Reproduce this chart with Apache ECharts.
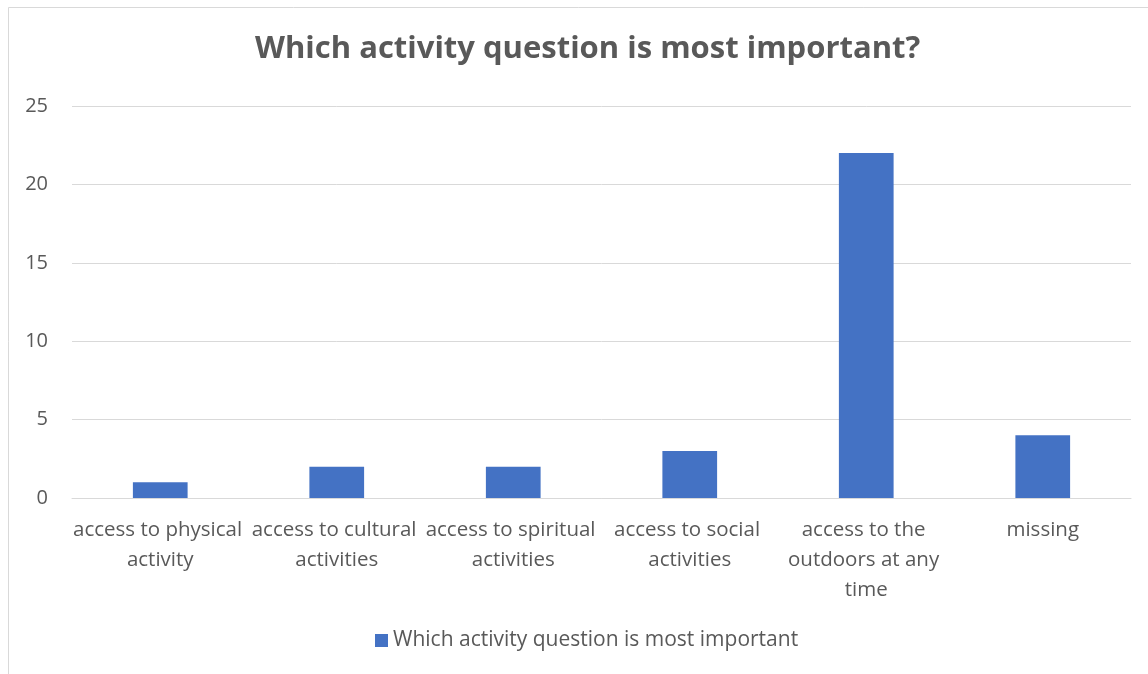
<!DOCTYPE html>
<html>
<head>
<meta charset="utf-8">
<script src="https://cdn.jsdelivr.net/npm/echarts@6/dist/echarts.min.js"></script>
<style>
  html, body { margin: 0; padding: 0; background: #fff; }
  #chart { width: 1148px; height: 674px; }
</style>
</head>
<body>
<div id="chart"></div>
<script>
const titleText = 'Which activity question is most important?';
const seriesName = 'Which activity question is most important';
const categories = [
  'access to physical activity',
  'access to cultural activities',
  'access to spiritual activities',
  'access to social activities',
  'access to the outdoors at any time',
  'missing'
];
const counts = [1, 2, 2, 3, 22, 4];
const yTicks = [0, 5, 10, 15, 20, 25];

const textColor = '#595959';
const barColor = '#4472C4';
const font = 'Open Sans';

const chart = echarts.init(document.getElementById('chart'), null, { renderer: 'canvas' });
chart.setOption({
  animation: false,
  backgroundColor: '#ffffff',
  graphic: [{
    type: 'rect',
    shape: { x: 8.5, y: 7.5, width: 1160, height: 700 },
    style: { fill: 'none', stroke: '#d9d9d9', lineWidth: 1 },
    silent: true
  }],
  title: {
    text: titleText,
    left: 250,
    top: 29,
    textStyle: { fontFamily: font, fontSize: 31, fontWeight: 'bold', color: textColor }
  },
  legend: {
    bottom: 18,
    left: 370,
    icon: 'rect',
    itemWidth: 13,
    itemHeight: 13,
    itemGap: 8,
    textStyle: { fontFamily: font, fontSize: 21, color: textColor }
  },
  grid: { left: 72, right: 17, top: 106, bottom: 176, containLabel: false },
  xAxis: {
    type: 'category',
    data: categories,
    axisLine: { lineStyle: { color: '#d9d9d9', width: 1 } },
    axisTick: { show: false },
    axisLabel: {
      interval: 0,
      fontFamily: font,
      fontSize: 20.5,
      color: textColor,
      margin: 17,
      lineHeight: 30,
      width: 176,
      overflow: 'break'
    }
  },
  yAxis: {
    type: 'value',
    min: yTicks[0],
    max: yTicks[yTicks.length - 1],
    interval: 5,
    axisLine: { show: false },
    axisTick: { show: false },
    splitLine: { lineStyle: { color: '#d9d9d9', width: 1 } },
    axisLabel: { fontFamily: font, fontSize: 20, color: textColor, margin: 24 }
  },
  series: [{
    name: seriesName,
    type: 'bar',
    data: counts,
    barWidth: '31%',
    itemStyle: { color: barColor }
  }]
});
</script>
</body>
</html>
